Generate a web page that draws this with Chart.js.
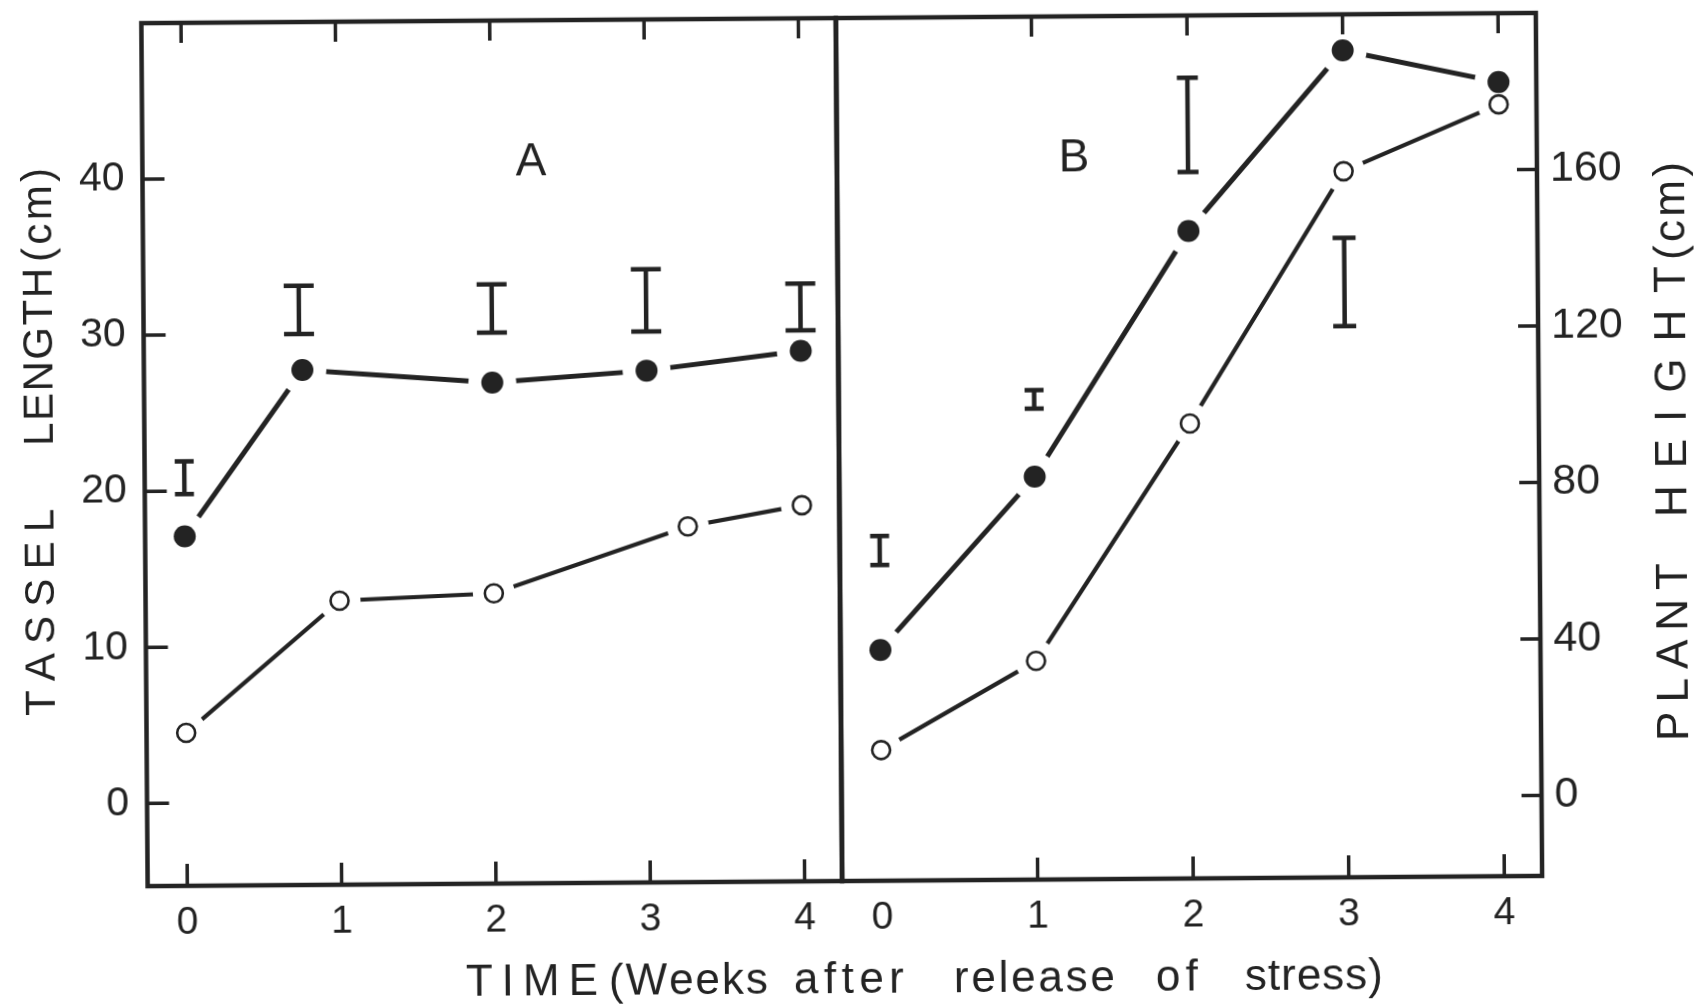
<!DOCTYPE html>
<html>
<head>
<meta charset="utf-8">
<title>Tassel length and plant height after release of stress</title>
<script src="https://cdn.jsdelivr.net/npm/chart.js@4.4.1/dist/chart.umd.min.js"></script>
<style>
  html, body { margin: 0; padding: 0; background: #ffffff; overflow: hidden; }
  #sheet { position: relative; width: 1697px; height: 1006px; transform: rotate(-0.42deg); transform-origin: 848px 452px; }
  #sheet canvas { position: absolute; left: 0; top: 0; }
</style>
</head>
<body>
<div id="sheet">
  <canvas id="panelA" width="1697" height="1006"></canvas>
  <canvas id="panelB" width="1697" height="1006"></canvas>
</div>
<script>
// ---- Panel A: tassel length (cm) ----
const tasselSolidWeeks  = [0, 0.77, 2, 3, 4];
const tasselSolid       = [17.1, 27.7, 26.8, 27.5, 28.7];
const tasselHollowWeeks = [0, 1, 2, 3.26, 4];
const tasselHollow      = [4.5, 12.9, 13.3, 17.5, 18.8];
const tasselBarWeeks    = [0, 0.75, 2, 3, 4];
const tasselBarLow      = [19.8, 30.0, 30.0, 30.0, 30.0];
const tasselBarHigh     = [21.9, 33.1, 33.1, 34.0, 33.0];

// ---- Panel B: plant height (cm) ----
const heightWeeks   = [0, 1, 2, 3, 4];
const heightSolid   = [38.4, 82.4, 144.9, 190.8, 182.4];
const heightHollow  = [12.8, 35.3, 95.7, 159.9, 176.7];
const heightBarWeeks = [0, 1, 2, 3];
const heightBarLow   = [60.1, 99.8, 160.0, 120.3];
const heightBarHigh  = [67.5, 104.5, 184.1, 142.9];

// ---- Tick labels ----
const weekTicks   = [0, 1, 2, 3, 4];
const tasselTicks = [0, 10, 20, 30, 40];
const heightTicks = [0, 40, 80, 120, 160];

const INK = '#232323';
const FONT = "'Liberation Sans', Arial, sans-serif";
const CAP = 0.716; // cap height as a fraction of the font size

function pts(xs, ys) { return xs.map((x, i) => ({ x: x, y: ys[i] })); }

// A connected series: the line, a white halo that opens a gap round each point, then the markers.
function series(points, hollow) {
  return [
    { data: points, showLine: true, borderColor: INK, borderWidth: hollow ? 4.2 : 5,
      pointRadius: 0, tension: 0, order: 3 },
    { data: points, showLine: false, pointRadius: hollow ? 21 : 24,
      pointBackgroundColor: '#ffffff', pointBorderWidth: 0, order: 2 },
    { data: points, showLine: false, pointRadius: hollow ? 9 : 11,
      pointBackgroundColor: hollow ? '#ffffff' : INK, pointBorderColor: INK,
      pointBorderWidth: hollow ? 2.6 : 0, order: 1 }
  ];
}

// Letter-spaced text: each segment is stretched between two positions along the baseline.
function drawTracked(ctx, segments, size) {
  ctx.font = size + 'px ' + FONT;
  ctx.textAlign = 'left';
  ctx.textBaseline = 'alphabetic';
  const base = size * CAP / 2;
  segments.forEach(seg => {
    const chars = Array.from(seg.text);
    const widths = chars.map(c => ctx.measureText(c).width);
    const natural = widths.reduce((a, b) => a + b, 0);
    const span = seg.to - seg.from;
    let squeeze = 1, gap = 0;
    if (natural > span) squeeze = span / natural;
    else if (chars.length > 1) gap = (span - natural) / (chars.length - 1);
    ctx.save();
    ctx.translate(seg.from, 0);
    ctx.scale(squeeze, 1);
    let x = 0;
    chars.forEach((c, i) => { ctx.fillText(c, x, base); x += widths[i] + gap / squeeze; });
    ctx.restore();
  });
}

function decor(cfg) {
  return {
    id: 'decor',
    afterDraw(chart) {
      const ctx = chart.ctx, a = chart.chartArea;
      const xs = chart.scales.x, ys = chart.scales.y;
      ctx.save();
      ctx.strokeStyle = INK;
      ctx.fillStyle = INK;

      // error bars
      ctx.lineWidth = 4.5;
      ctx.lineCap = 'butt';
      cfg.barWeeks.forEach((w, i) => {
        const x = xs.getPixelForValue(w);
        const lo = ys.getPixelForValue(cfg.barLow[i]);
        const hi = ys.getPixelForValue(cfg.barHigh[i]);
        const hw = cfg.capWidths[i] / 2;
        ctx.beginPath();
        ctx.moveTo(x, lo); ctx.lineTo(x, hi);
        ctx.moveTo(x - hw, lo); ctx.lineTo(x + hw, lo);
        ctx.moveTo(x - hw, hi); ctx.lineTo(x + hw, hi);
        ctx.stroke();
      });

      // inward tick marks
      ctx.lineWidth = 3.5;
      ctx.beginPath();
      cfg.xMarks.forEach(w => {
        const x = xs.getPixelForValue(w);
        ctx.moveTo(x, a.top); ctx.lineTo(x, a.top + 20);
        ctx.moveTo(x, a.bottom); ctx.lineTo(x, a.bottom - 22);
      });
      cfg.yMarks.forEach(v => {
        const y = ys.getPixelForValue(v);
        if (cfg.side === 'left') { ctx.moveTo(a.left, y); ctx.lineTo(a.left + 22, y); }
        else { ctx.moveTo(a.right, y); ctx.lineTo(a.right - 20, y); }
      });
      ctx.stroke();

      // frame (both panels share the middle divider)
      ctx.lineWidth = 4.5;
      ctx.lineCap = 'square';
      ctx.beginPath();
      ctx.moveTo(a.left, a.top); ctx.lineTo(a.right, a.top);
      ctx.moveTo(a.left, a.bottom); ctx.lineTo(a.right, a.bottom);
      ctx.moveTo(a.right, a.top); ctx.lineTo(a.right, a.bottom);
      ctx.moveTo(a.left, a.top); ctx.lineTo(a.left, a.bottom);
      ctx.stroke();

      // panel letter
      ctx.font = '46px ' + FONT;
      ctx.textAlign = 'center';
      ctx.textBaseline = 'alphabetic';
      ctx.fillText(cfg.letter, cfg.letterAt[0], cfg.letterAt[1] + 46 * CAP / 2);

      // vertical axis title, read from bottom to top
      ctx.save();
      ctx.translate(cfg.titleX, 0);
      ctx.rotate(-Math.PI / 2);
      drawTracked(ctx, cfg.title.map(s => ({ text: s.text, from: -s.from, to: -s.to })), cfg.titleSize);
      ctx.restore();

      // horizontal axis title
      if (cfg.xTitle) {
        ctx.save();
        ctx.translate(0, cfg.xTitleY);
        drawTracked(ctx, cfg.xTitle, 44);
        ctx.restore();
      }
      ctx.restore();
    }
  };
}

function tickFont(size) { return { family: FONT, size: size }; }

// keep the plot area exactly where the layout padding puts it
function noLabelPadding(s) {
  s.paddingTop = 0; s.paddingBottom = 0; s.paddingLeft = 0; s.paddingRight = 0;
}

function makePanel(id, p) {
  return new Chart(document.getElementById(id), {
    type: 'line',
    data: { datasets: p.datasets },
    options: {
      responsive: false,
      animation: false,
      devicePixelRatio: 1,
      events: [],
      layout: { padding: p.padding, autoPadding: false },
      plugins: { legend: { display: false }, tooltip: { enabled: false } },
      scales: {
        x: {
          type: 'linear', min: -0.257, max: 4.243,
          afterBuildTicks: s => { s.ticks = weekTicks.map(v => ({ value: v })); },
          afterFit: s => { s.height = 1006 - 881; noLabelPadding(s); },
          grid: { display: false }, border: { display: false },
          ticks: { padding: 6, color: INK, font: tickFont(39), callback: v => String(v) }
        },
        y: {
          type: 'linear', position: p.side, min: p.yMin, max: p.yMax,
          afterBuildTicks: s => { s.ticks = p.yTicks.map(v => ({ value: v })); },
          afterFit: s => { s.width = p.yWidth; noLabelPadding(s); },
          grid: { display: false }, border: { display: false },
          ticks: { padding: p.yPad, color: INK, font: tickFont(p.yFont), callback: v => String(v) }
        }
      }
    },
    plugins: [decor(p.decor)]
  });
}

makePanel('panelA', {
  side: 'left', yMin: -5.3, yMax: 50, yTicks: tasselTicks, yWidth: 144.5, yPad: 10, yFont: 41,
  padding: { left: 0, top: 18, right: 1697 - 839, bottom: 0 },
  datasets: [].concat(
    series(pts(tasselSolidWeeks, tasselSolid), false),
    series(pts(tasselHollowWeeks, tasselHollow), true)
  ),
  decor: {
    side: 'left', letter: 'A', letterAt: [533, 157],
    barWeeks: tasselBarWeeks, barLow: tasselBarLow, barHigh: tasselBarHigh,
    capWidths: [19, 30, 30, 30, 30],
    xMarks: weekTicks, yMarks: tasselTicks,
    titleX: 38, titleSize: 42,
    title: [
      { text: 'TASSEL', from: 710, to: 503 },
      { text: 'LENGTH', from: 440, to: 262 },
      { text: '(cm)', from: 256, to: 162 }
    ],
    xTitleY: 977,
    xTitle: [
      { text: 'TIME', from: 462, to: 594 },
      { text: '(Weeks', from: 605, to: 764 },
      { text: 'after', from: 790, to: 900 },
      { text: 'release', from: 950, to: 1111 },
      { text: 'of', from: 1152, to: 1194 },
      { text: 'stress)', from: 1241, to: 1379 }
    ]
  }
});

makePanel('panelB', {
  side: 'right', yMin: -20.6, yMax: 200, yTicks: heightTicks, yWidth: 1697 - 1539, yPad: 5, yFont: 43,
  padding: { left: 839, top: 18, right: 0, bottom: 0 },
  datasets: [].concat(
    series(pts(heightWeeks, heightSolid), false),
    series(pts(heightWeeks, heightHollow), true)
  ),
  decor: {
    side: 'right', letter: 'B', letterAt: [1076, 157],
    barWeeks: heightBarWeeks, barLow: heightBarLow, barHigh: heightBarHigh,
    capWidths: [19, 19, 21, 23],
    xMarks: [1, 2, 3, 4], yMarks: heightTicks,
    titleX: 1670, titleSize: 44,
    title: [
      { text: 'PLANT', from: 747, to: 569 },
      { text: 'HEIGHT', from: 523, to: 272 },
      { text: '(cm)', from: 266, to: 168 }
    ]
  }
});
</script>
</body>
</html>
